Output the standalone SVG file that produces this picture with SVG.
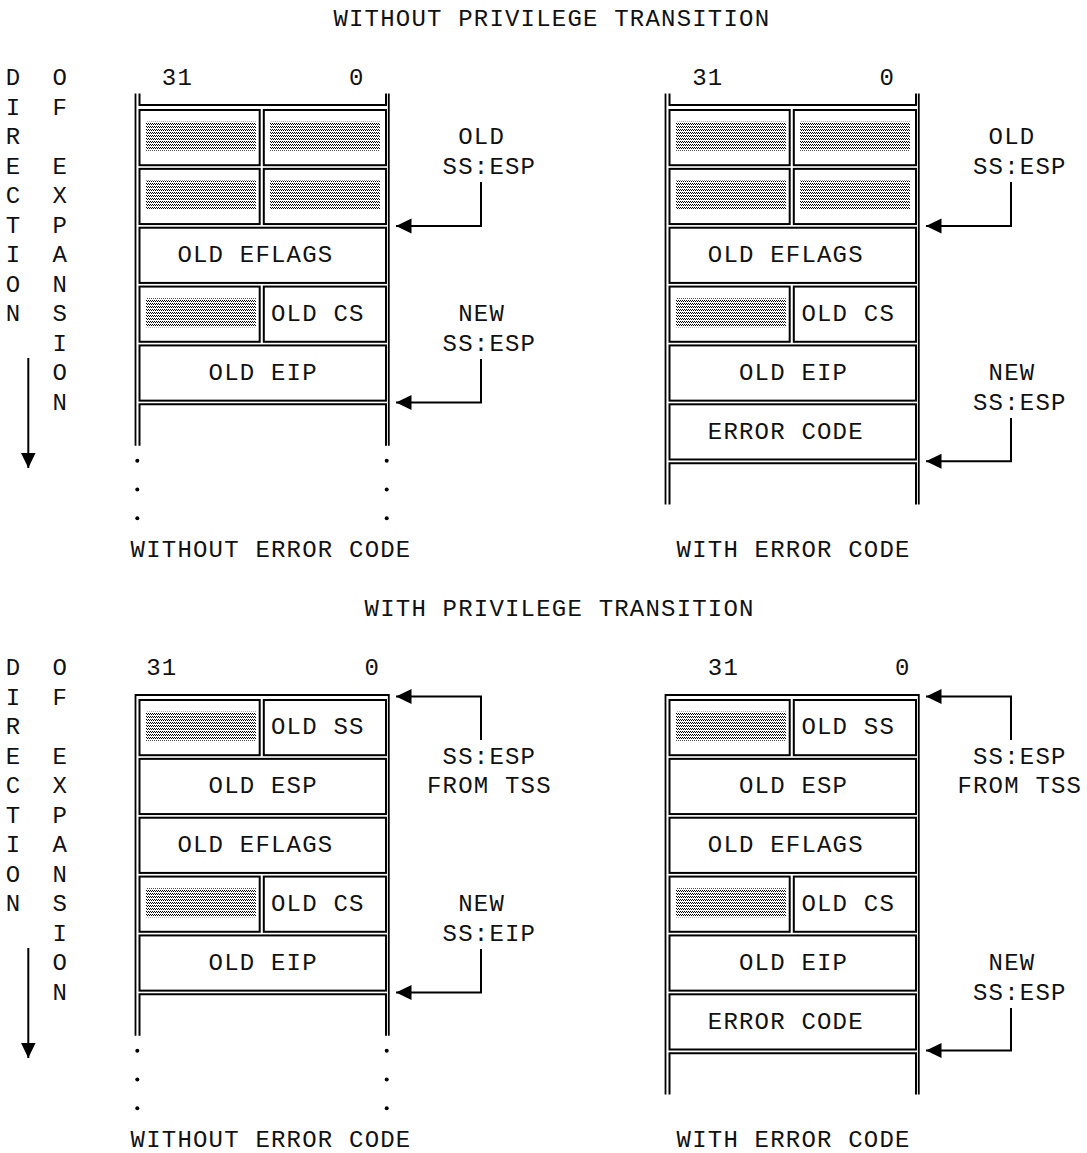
<svg xmlns="http://www.w3.org/2000/svg" width="1087" height="1153" viewBox="0 0 1087 1153">
<style>
text{font-family:"Liberation Mono","DejaVu Sans Mono",monospace;font-size:24px;letter-spacing:1.2px;fill:#111}
.cell{fill:#fff;stroke:#000;stroke-width:2}
.open{fill:none;stroke:#000;stroke-width:2}
.outer{fill:none;stroke:#000;stroke-width:1.8}
.shade{fill:url(#dots)}
.conn{fill:none;stroke:#000;stroke-width:2;marker-end:url(#ah)}
.dot{fill:#000}
</style>
<defs>
<pattern id="dots" width="2" height="3" patternUnits="userSpaceOnUse">
<rect x="0" y="0" width="1" height="1" fill="#000"/>
<rect x="1" y="1" width="1" height="1" fill="#000"/>
</pattern>
<marker id="ah" markerUnits="userSpaceOnUse" markerWidth="16" markerHeight="16" refX="15.5" refY="7.5" orient="auto">
<path d="M0,0 L15.5,7.5 L0,15 Z" fill="#000"/>
</marker>
</defs>
<rect width="1087" height="1153" fill="#fff"/>

<text x="333.4" y="26">WITHOUT PRIVILEGE TRANSITION</text>
<text x="364.6" y="616">WITH PRIVILEGE TRANSITION</text>

<g id="dir-top">
<text x="5.8" y="85">D</text><text x="5.8" y="114.5">I</text><text x="5.8" y="144">R</text><text x="5.8" y="173.5">E</text><text x="5.8" y="203">C</text><text x="5.8" y="232.5">T</text><text x="5.8" y="262">I</text><text x="5.8" y="291.5">O</text><text x="5.8" y="321">N</text>
<text x="52.6" y="85">O</text><text x="52.6" y="114.5">F</text><text x="52.6" y="173.5">E</text><text x="52.6" y="203">X</text><text x="52.6" y="232.5">P</text><text x="52.6" y="262">A</text><text x="52.6" y="291.5">N</text><text x="52.6" y="321">S</text><text x="52.6" y="350.5">I</text><text x="52.6" y="380">O</text><text x="52.6" y="409.5">N</text>
</g>
<g id="dir-bottom" transform="translate(0,590)">
<text x="5.8" y="85">D</text><text x="5.8" y="114.5">I</text><text x="5.8" y="144">R</text><text x="5.8" y="173.5">E</text><text x="5.8" y="203">C</text><text x="5.8" y="232.5">T</text><text x="5.8" y="262">I</text><text x="5.8" y="291.5">O</text><text x="5.8" y="321">N</text>
<text x="52.6" y="85">O</text><text x="52.6" y="114.5">F</text><text x="52.6" y="173.5">E</text><text x="52.6" y="203">X</text><text x="52.6" y="232.5">P</text><text x="52.6" y="262">A</text><text x="52.6" y="291.5">N</text><text x="52.6" y="321">S</text><text x="52.6" y="350.5">I</text><text x="52.6" y="380">O</text><text x="52.6" y="409.5">N</text>
</g>

<g id="panel-tl">
<text x="161.8" y="85">31</text><text x="349" y="85">0</text>
<path class="outer" d="M135.5,93.5 V445.7 M388.8,93.5 V445.7"/>
<path id="tl-cap" class="open" d="M139.5,93.5 V105 H386 V93.5"/>
<g id="tl-r0"><rect class="cell" x="139.5" y="110" width="120.2" height="55.2"/><rect class="shade" x="146" y="121.7" width="110" height="29"/><rect class="cell" x="263.8" y="110" width="122.2" height="55.2"/><rect class="shade" x="270" y="121.7" width="110" height="29"/></g>
<g id="tl-r1"><rect class="cell" x="139.5" y="168.86" width="120.2" height="55.2"/><rect class="shade" x="146" y="180.56" width="110" height="29"/><rect class="cell" x="263.8" y="168.86" width="122.2" height="55.2"/><rect class="shade" x="270" y="180.56" width="110" height="29"/></g>
<g id="tl-eflags"><rect class="cell" x="139.5" y="227.72" width="246.5" height="55.2"/><text x="177.4" y="262">OLD EFLAGS</text></g>
<g id="tl-cs"><rect class="cell" x="139.5" y="286.58" width="120.2" height="55.2"/><rect class="shade" x="146" y="298.28" width="110" height="29"/><rect class="cell" x="263.8" y="286.58" width="122.2" height="55.2"/><text x="271" y="321">OLD CS</text></g>
<g id="tl-eip"><rect class="cell" x="139.5" y="345.44" width="246.5" height="55.2"/><text x="208.6" y="380">OLD EIP</text></g>
<path id="tl-open" class="open" d="M139.5,445.7 V404.3 H386 V445.7"/>
<circle class="dot" cx="137.3" cy="460.7" r="2"/><circle class="dot" cx="137.3" cy="489.5" r="2"/><circle class="dot" cx="137.3" cy="518.3" r="2"/>
<circle class="dot" cx="386.7" cy="460.7" r="2"/><circle class="dot" cx="386.7" cy="489.5" r="2"/><circle class="dot" cx="386.7" cy="518.3" r="2"/>
<text x="130.6" y="557">WITHOUT ERROR CODE</text>
<text x="458.2" y="144">OLD</text><text x="442.6" y="173.5">SS:ESP</text>
<text x="458.2" y="321">NEW</text><text x="442.6" y="350.5">SS:ESP</text>
</g>

<g id="panel-tr" transform="translate(530,0)">
<text x="162.2" y="85">31</text><text x="349.4" y="85">0</text>
<path class="outer" d="M135.5,93.5 V504.5 M388.8,93.5 V504.5"/>
<path id="tr-cap" class="open" d="M139.5,93.5 V105 H386 V93.5"/>
<g id="tr-r0"><rect class="cell" x="139.5" y="110" width="120.2" height="55.2"/><rect class="shade" x="146" y="121.7" width="110" height="29"/><rect class="cell" x="263.8" y="110" width="122.2" height="55.2"/><rect class="shade" x="270" y="121.7" width="110" height="29"/></g>
<g id="tr-r1"><rect class="cell" x="139.5" y="168.86" width="120.2" height="55.2"/><rect class="shade" x="146" y="180.56" width="110" height="29"/><rect class="cell" x="263.8" y="168.86" width="122.2" height="55.2"/><rect class="shade" x="270" y="180.56" width="110" height="29"/></g>
<g id="tr-eflags"><rect class="cell" x="139.5" y="227.72" width="246.5" height="55.2"/><text x="177.8" y="262">OLD EFLAGS</text></g>
<g id="tr-cs"><rect class="cell" x="139.5" y="286.58" width="120.2" height="55.2"/><rect class="shade" x="146" y="298.28" width="110" height="29"/><rect class="cell" x="263.8" y="286.58" width="122.2" height="55.2"/><text x="271.4" y="321">OLD CS</text></g>
<g id="tr-eip"><rect class="cell" x="139.5" y="345.44" width="246.5" height="55.2"/><text x="209" y="380">OLD EIP</text></g>
<g id="tr-err"><rect class="cell" x="139.5" y="404.3" width="246.5" height="55.2"/><text x="177.8" y="439">ERROR CODE</text></g>
<path id="tr-open" class="open" d="M139.5,504.5 V463.16 H386 V504.5"/>
<text x="146.6" y="557">WITH ERROR CODE</text>
<text x="458.6" y="144">OLD</text><text x="443" y="173.5">SS:ESP</text>
<text x="458.6" y="380">NEW</text><text x="443" y="409.5">SS:ESP</text>
</g>

<g id="panel-bl" transform="translate(0,590)">
<text x="146.2" y="85">31</text><text x="364.6" y="85">0</text>
<path class="outer" d="M135.5,445.7 V105 H388.8 V445.7"/>
<g id="bl-ss"><rect class="cell" x="139.5" y="110" width="120.2" height="55.2"/><rect class="shade" x="146" y="121.7" width="110" height="29"/><rect class="cell" x="263.8" y="110" width="122.2" height="55.2"/><text x="271" y="144">OLD SS</text></g>
<g id="bl-esp"><rect class="cell" x="139.5" y="168.86" width="246.5" height="55.2"/><text x="208.6" y="203">OLD ESP</text></g>
<g id="bl-eflags"><rect class="cell" x="139.5" y="227.72" width="246.5" height="55.2"/><text x="177.4" y="262">OLD EFLAGS</text></g>
<g id="bl-cs"><rect class="cell" x="139.5" y="286.58" width="120.2" height="55.2"/><rect class="shade" x="146" y="298.28" width="110" height="29"/><rect class="cell" x="263.8" y="286.58" width="122.2" height="55.2"/><text x="271" y="321">OLD CS</text></g>
<g id="bl-eip"><rect class="cell" x="139.5" y="345.44" width="246.5" height="55.2"/><text x="208.6" y="380">OLD EIP</text></g>
<path id="bl-open" class="open" d="M139.5,445.7 V404.3 H386 V445.7"/>
<circle class="dot" cx="137.3" cy="460.7" r="2"/><circle class="dot" cx="137.3" cy="489.5" r="2"/><circle class="dot" cx="137.3" cy="518.3" r="2"/>
<circle class="dot" cx="386.7" cy="460.7" r="2"/><circle class="dot" cx="386.7" cy="489.5" r="2"/><circle class="dot" cx="386.7" cy="518.3" r="2"/>
<text x="130.6" y="557">WITHOUT ERROR CODE</text>
<text x="442.6" y="173.5">SS:ESP</text><text x="427" y="203">FROM TSS</text>
<text x="458.2" y="321">NEW</text><text x="442.6" y="350.5">SS:EIP</text>
</g>

<g id="panel-br" transform="translate(530,590)">
<text x="177.8" y="85">31</text><text x="365" y="85">0</text>
<path class="outer" d="M135.5,504.5 V105 H388.8 V504.5"/>
<g id="br-ss"><rect class="cell" x="139.5" y="110" width="120.2" height="55.2"/><rect class="shade" x="146" y="121.7" width="110" height="29"/><rect class="cell" x="263.8" y="110" width="122.2" height="55.2"/><text x="271.4" y="144">OLD SS</text></g>
<g id="br-esp"><rect class="cell" x="139.5" y="168.86" width="246.5" height="55.2"/><text x="209" y="203">OLD ESP</text></g>
<g id="br-eflags"><rect class="cell" x="139.5" y="227.72" width="246.5" height="55.2"/><text x="177.8" y="262">OLD EFLAGS</text></g>
<g id="br-cs"><rect class="cell" x="139.5" y="286.58" width="120.2" height="55.2"/><rect class="shade" x="146" y="298.28" width="110" height="29"/><rect class="cell" x="263.8" y="286.58" width="122.2" height="55.2"/><text x="271.4" y="321">OLD CS</text></g>
<g id="br-eip"><rect class="cell" x="139.5" y="345.44" width="246.5" height="55.2"/><text x="209" y="380">OLD EIP</text></g>
<g id="br-err"><rect class="cell" x="139.5" y="404.3" width="246.5" height="55.2"/><text x="177.8" y="439">ERROR CODE</text></g>
<path id="br-open" class="open" d="M139.5,504.5 V463.16 H386 V504.5"/>
<text x="146.6" y="557">WITH ERROR CODE</text>
<text x="443" y="173.5">SS:ESP</text><text x="427.4" y="203">FROM TSS</text>
<text x="458.6" y="380">NEW</text><text x="443" y="409.5">SS:ESP</text>
</g>

<g id="connectors">
<path class="conn" d="M28.3,358 V468"/>
<path class="conn" d="M28.3,948 V1058"/>
<path class="conn" d="M481,182 V226 H396"/>
<path class="conn" d="M481,359 V402.5 H396"/>
<path class="conn" d="M1011,182 V226 H926"/>
<path class="conn" d="M1011,418 V461.3 H926"/>
<path class="conn" d="M481,740 V696.5 H396"/>
<path class="conn" d="M481,949 V992.5 H396"/>
<path class="conn" d="M1011,740 V696.5 H926"/>
<path class="conn" d="M1011,1008 V1050.5 H926"/>
</g>
</svg>
